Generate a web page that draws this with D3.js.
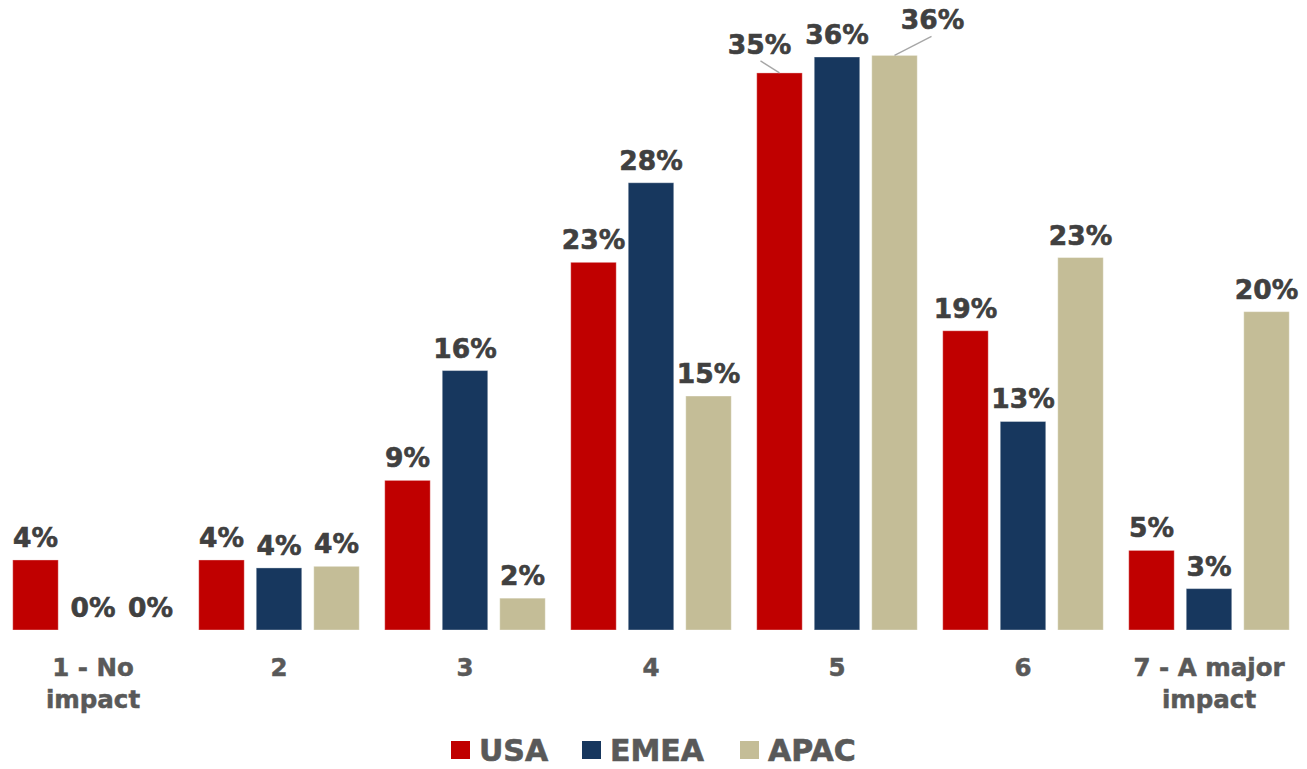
<!DOCTYPE html>
<html>
<head>
<meta charset="utf-8">
<script src="https://cdn.jsdelivr.net/npm/d3@7"></script>
<style>
  html, body { margin: 0; padding: 0; background: #fff; }
  svg { display: block; }
  text { font-family: "DejaVu Sans", Verdana, sans-serif; font-weight: bold; }
</style>
</head>
<body>
<svg id="chart" width="1307" height="769"></svg>
<script>
// Impact rating categories (1 = no impact, 7 = a major impact)
const categories = ["1 - No impact", "2", "3", "4", "5", "6", "7 - A major impact"];
const seriesNames = ["USA", "EMEA", "APAC"];

// Share of respondents per rating, in percent
const usaValues  = [4.4, 4.4, 9.4, 23.1, 35.0, 18.8, 5.0];
const emeaValues = [0,   3.9, 16.3, 28.1, 36.0, 13.1, 2.6];
const apacValues = [0,   4.0, 2.0, 14.7, 36.1, 23.4, 20.0];

const seriesValues = [usaValues, emeaValues, apacValues];
const colors = ["#C00000", "#17375E", "#C4BD97"];

const svg = d3.select("#chart");

const baseline = 630;
const x0 = d3.scaleBand()
  .domain(categories)
  .range([0, 1302])
  .paddingInner(0.137)
  .paddingOuter(0.0685);

const x1 = d3.scaleBand()
  .domain(seriesNames)
  .range([0, x0.bandwidth()])
  .paddingInner(0.209)
  .paddingOuter(0);

const y = d3.scaleLinear().domain([0, 36]).range([baseline, 57]);

const rows = [];
categories.forEach((c, i) => {
  seriesNames.forEach((s, j) => {
    rows.push({ cat: c, series: s, value: seriesValues[j][i], color: colors[j] });
  });
});

// Bars
svg.append("g").selectAll("rect")
  .data(rows)
  .join("rect")
  .attr("x", d => x0(d.cat) + x1(d.series))
  .attr("y", d => y(d.value))
  .attr("width", x1.bandwidth())
  .attr("height", d => baseline - y(d.value))
  .attr("fill", d => d.color)
  .attr("stroke", "#ffffff")
  .attr("stroke-opacity", 0.35)
  .attr("stroke-width", 1);

// Labels that are moved off the bar top, with a leader line back to it
const nudges = {
  "5|USA":  { dx: -20, dy: -6 },
  "5|APAC": { dx: 38,  dy: -13 }
};

const labelG = svg.append("g");
rows.forEach(d => {
  const cx = x0(d.cat) + x1(d.series) + x1.bandwidth() / 2;
  const top = y(d.value);
  const n = nudges[d.cat + "|" + d.series];
  let lx = cx, ly = top - 13;
  if (n) {
    lx = cx + n.dx;
    ly = top - 13 + n.dy;
    const lineEndX = n.dx < 0 ? lx + 1 : lx - 1;
    labelG.append("line")
      .attr("x1", cx)
      .attr("y1", top)
      .attr("x2", lineEndX)
      .attr("y2", ly + 7)
      .attr("stroke", "#a6a6a6")
      .attr("stroke-width", 1.3);
  }
  labelG.append("text")
    .attr("x", lx)
    .attr("y", ly)
    .attr("text-anchor", "middle")
    .attr("font-size", 26.5)
    .attr("fill", "#404040")
    .attr("stroke", "#404040")
    .attr("stroke-width", 0.6)
    .text(Math.round(d.value) + "%");
});

// Category axis labels (wrapped onto two lines where needed)
const tickLines = {
  "1 - No impact": ["1 - No", "impact"],
  "7 - A major impact": ["7 - A major", "impact"]
};
const axisG = svg.append("g");
categories.forEach(c => {
  const lines = tickLines[c] || [c];
  const t = axisG.append("text")
    .attr("x", x0(c) + x0.bandwidth() / 2)
    .attr("y", 676)
    .attr("text-anchor", "middle")
    .attr("font-size", 24.5)
    .attr("fill", "#595959")
    .attr("stroke", "#595959")
    .attr("stroke-width", 0.5);
  lines.forEach((ln, k) => {
    t.append("tspan")
      .attr("x", x0(c) + x0.bandwidth() / 2)
      .attr("dy", k === 0 ? 0 : 32)
      .text(ln);
  });
});

// Legend
const legendItems = [
  { name: "USA",  color: colors[0], x: 451 },
  { name: "EMEA", color: colors[1], x: 582 },
  { name: "APAC", color: colors[2], x: 740 }
];
const legend = svg.append("g");
legendItems.forEach(it => {
  legend.append("rect")
    .attr("x", it.x)
    .attr("y", 741)
    .attr("width", 19)
    .attr("height", 18)
    .attr("fill", it.color);
  legend.append("text")
    .attr("x", it.x + 28)
    .attr("y", 761)
    .attr("font-size", 30)
    .attr("fill", "#595959")
    .attr("stroke", "#595959")
    .attr("stroke-width", 0.6)
    .text(it.name);
});
</script>
</body>
</html>
